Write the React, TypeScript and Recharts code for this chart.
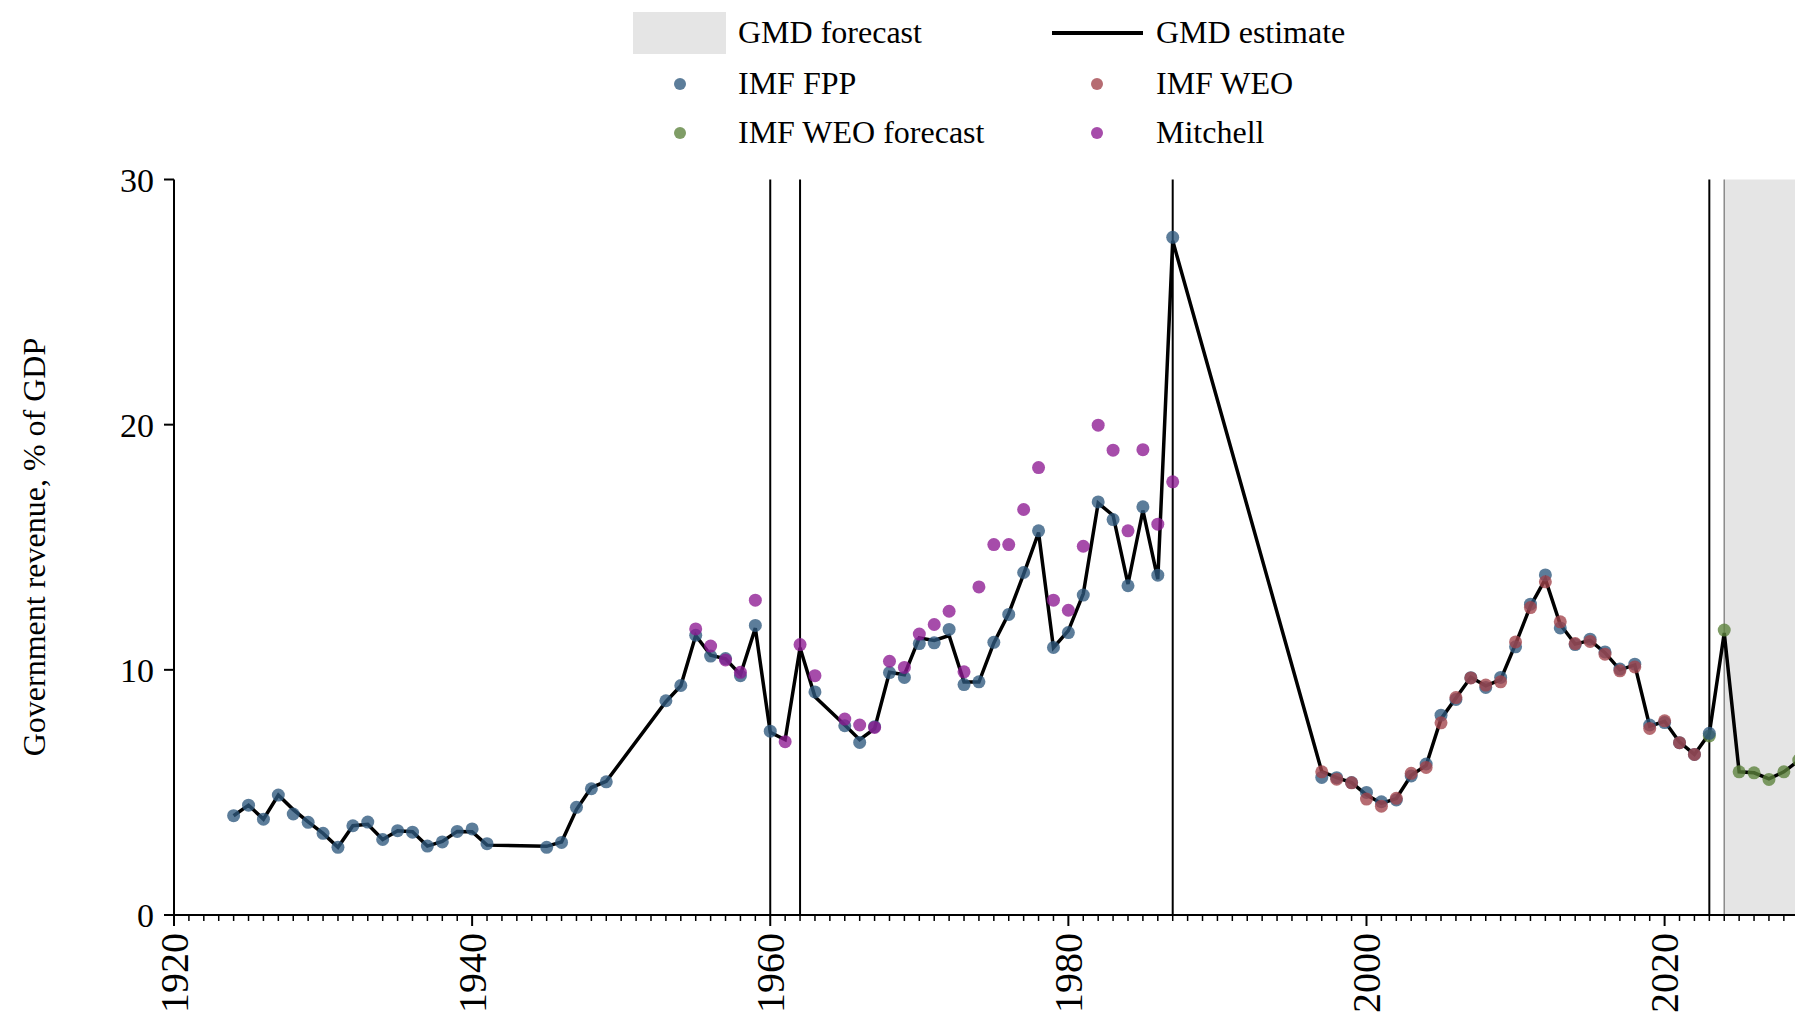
import React from 'react';
import {
  ComposedChart,
  Line,
  Scatter,
  XAxis,
  YAxis,
  ReferenceLine,
  ReferenceArea,
} from 'recharts';

const FONT = '"Liberation Serif", "Times New Roman", serif';

// [year, % of GDP]
const GMD_ESTIMATE = [
  [1924, 4.05], [1925, 4.48], [1926, 3.91], [1927, 4.89], [1928, 4.3], [1929, 3.8],
  [1930, 3.33], [1931, 2.76], [1932, 3.64], [1933, 3.7], [1934, 3.08], [1935, 3.44],
  [1936, 3.4], [1937, 2.81], [1938, 3.0], [1939, 3.41], [1940, 3.4], [1941, 2.85],
  [1945, 2.8], [1946, 2.98], [1947, 4.3], [1948, 5.2], [1949, 5.45], [1953, 8.7],
  [1954, 9.35], [1955, 11.4], [1956, 10.6], [1957, 10.45], [1958, 9.8], [1959, 11.7],
  [1960, 7.45], [1961, 7.15], [1962, 10.9], [1963, 8.9], [1965, 7.75], [1966, 7.15],
  [1967, 7.6], [1968, 9.9], [1969, 9.8], [1970, 11.3], [1971, 11.2], [1972, 11.4],
  [1973, 9.5], [1974, 9.5], [1975, 11.1], [1976, 12.3], [1977, 13.9], [1978, 15.6],
  [1979, 10.9], [1980, 11.6], [1981, 13.1], [1982, 16.8], [1983, 16.3], [1984, 13.5],
  [1985, 16.5], [1986, 13.7], [1987, 27.5], [1997, 5.85], [1998, 5.6], [1999, 5.4],
  [2000, 4.9], [2001, 4.55], [2002, 4.75], [2003, 5.7], [2004, 6.1], [2005, 8.0],
  [2006, 8.85], [2007, 9.7], [2008, 9.35], [2009, 9.6], [2010, 11.05], [2011, 12.6],
  [2012, 13.7], [2013, 11.85], [2014, 11.05], [2015, 11.2], [2016, 10.7], [2017, 10.0],
  [2018, 10.2], [2019, 7.7], [2020, 7.9], [2021, 7.05], [2022, 6.55], [2023, 7.4],
  [2024, 11.5], [2025, 5.84], [2026, 5.8], [2027, 5.55], [2028, 5.84], [2029, 6.3],
];

const IMF_FPP = [
  [1924, 4.05], [1925, 4.48], [1926, 3.91], [1927, 4.89], [1928, 4.12], [1929, 3.78],
  [1930, 3.33], [1931, 2.76], [1932, 3.64], [1933, 3.79], [1934, 3.08], [1935, 3.44],
  [1936, 3.38], [1937, 2.81], [1938, 2.98], [1939, 3.41], [1940, 3.51], [1941, 2.91],
  [1945, 2.76], [1946, 2.96], [1947, 4.39], [1948, 5.15], [1949, 5.43], [1953, 8.74],
  [1954, 9.36], [1955, 11.41], [1956, 10.56], [1957, 10.46], [1958, 9.76], [1959, 11.81],
  [1960, 7.5], [1963, 9.1], [1965, 7.72], [1966, 7.04], [1967, 7.68], [1968, 9.89],
  [1969, 9.69], [1970, 11.07], [1971, 11.1], [1972, 11.65], [1973, 9.4], [1974, 9.51],
  [1975, 11.12], [1976, 12.26], [1977, 13.97], [1978, 15.67], [1979, 10.91], [1980, 11.52],
  [1981, 13.05], [1982, 16.85], [1983, 16.13], [1984, 13.43], [1985, 16.65], [1986, 13.86],
  [1987, 27.64], [1997, 5.61], [1998, 5.6], [1999, 5.4], [2000, 5.0], [2001, 4.62],
  [2002, 4.69], [2003, 5.67], [2004, 6.16], [2005, 8.15], [2006, 8.79], [2007, 9.68],
  [2008, 9.28], [2009, 9.69], [2010, 10.94], [2011, 12.68], [2012, 13.87], [2013, 11.71],
  [2014, 11.03], [2015, 11.25], [2016, 10.73], [2017, 10.03], [2018, 10.23], [2019, 7.75],
  [2020, 7.85], [2021, 7.03], [2022, 6.55], [2023, 7.41],
];

const IMF_WEO = [
  [1997, 5.84], [1998, 5.54], [1999, 5.39], [2000, 4.73], [2001, 4.44], [2002, 4.76],
  [2003, 5.78], [2004, 6.02], [2005, 7.84], [2006, 8.87], [2007, 9.67], [2008, 9.38],
  [2009, 9.51], [2010, 11.14], [2011, 12.54], [2012, 13.59], [2013, 11.96], [2014, 11.07],
  [2015, 11.16], [2016, 10.64], [2017, 9.96], [2018, 10.12], [2019, 7.61], [2020, 7.92],
  [2021, 7.03], [2022, 6.55],
];

const IMF_WEO_FORECAST = [
  [2023, 7.3], [2024, 11.62], [2025, 5.84], [2026, 5.8], [2027, 5.53], [2028, 5.84], [2029, 6.32],
];

const MITCHELL = [
  [1955, 11.67], [1956, 10.97], [1957, 10.4], [1958, 9.9], [1959, 12.84], [1961, 7.07],
  [1962, 11.03], [1963, 9.76], [1965, 7.99], [1966, 7.75], [1967, 7.65], [1968, 10.35],
  [1969, 10.1], [1970, 11.46], [1971, 11.85], [1972, 12.39], [1973, 9.92], [1974, 13.38],
  [1975, 15.11], [1976, 15.11], [1977, 16.54], [1978, 18.25], [1979, 12.84], [1980, 12.43],
  [1981, 15.04], [1982, 19.98], [1983, 18.96], [1984, 15.67], [1985, 18.98], [1986, 15.94],
  [1987, 17.67],
];

const BREAK_YEARS = [1960, 1962, 1987, 2023];
const FORECAST_START = 2024;
const Y_TICKS = [0, 10, 20, 30];
const X_MIN = 1920;
const X_MAX = 2035;
const YEAR_TICKS = Array.from({ length: X_MAX - X_MIN + 1 }, (_, i) => X_MIN + i);

const COLORS = {
  fpp: '#2e597e',
  weo: '#a2424a',
  weoForecast: '#5b813b',
  mitchell: '#8d1992',
};

const DOT_R = 6.5;

const toRows = (pairs: number[][]) => pairs.map(([year, value]) => ({ year, value }));

const dot = (color: string) => (props: any) => (
  <circle cx={props.cx} cy={props.cy} r={DOT_R} fill={color} fillOpacity={0.78} />
);

const YearTick = (props: any) => {
  const { x, y, payload } = props;
  const year = payload.value;
  const major = year % 20 === 0;
  return (
    <g>
      <line x1={x} y1={y} x2={x} y2={y + (major ? 11 : 6)} stroke="#000" strokeWidth={major ? 2 : 1.5} />
      {major && year <= 2020 && (
        <text
          x={x}
          y={y + 18}
          transform={`rotate(-90, ${x}, ${y + 18})`}
          textAnchor="end"
          dominantBaseline="central"
          fontSize={40}
          fontFamily={FONT}
          fill="#000"
        >
          {year}
        </text>
      )}
    </g>
  );
};

const legendText: React.CSSProperties = {
  position: 'absolute',
  fontSize: 32,
  lineHeight: '32px',
  whiteSpace: 'nowrap',
  color: '#000',
};

const LegendDot = ({ x, y, color }: { x: number; y: number; color: string }) => (
  <div
    style={{
      position: 'absolute',
      left: x - 6,
      top: y - 6,
      width: 12,
      height: 12,
      borderRadius: '50%',
      background: color,
      opacity: 0.78,
    }}
  />
);

export default function App() {
  return (
    <div
      style={{
        position: 'fixed',
        left: 0,
        top: 0,
        width: 1795,
        height: 1017,
        overflow: 'hidden',
        background: '#fff',
        fontFamily: FONT,
      }}
    >
      {/* legend */}
      <div style={{ position: 'absolute', left: 633, top: 12, width: 93, height: 42, background: '#e5e5e5' }} />
      <div style={{ ...legendText, left: 738, top: 16 }}>GMD forecast</div>
      <div style={{ position: 'absolute', left: 1052, top: 31, width: 91, height: 3.5, background: '#000' }} />
      <div style={{ ...legendText, left: 1156, top: 16 }}>GMD estimate</div>
      <LegendDot x={680} y={84} color={COLORS.fpp} />
      <div style={{ ...legendText, left: 738, top: 67 }}>IMF FPP</div>
      <LegendDot x={1097} y={84} color={COLORS.weo} />
      <div style={{ ...legendText, left: 1156, top: 67 }}>IMF WEO</div>
      <LegendDot x={680} y={133} color={COLORS.weoForecast} />
      <div style={{ ...legendText, left: 738, top: 116 }}>IMF WEO forecast</div>
      <LegendDot x={1097} y={133} color={COLORS.mitchell} />
      <div style={{ ...legendText, left: 1156, top: 116 }}>Mitchell</div>

      {/* y axis title */}
      <div
        style={{
          position: 'absolute',
          left: 34,
          top: 547,
          fontSize: 32,
          whiteSpace: 'nowrap',
          transform: 'translate(-50%, -50%) rotate(-90deg)',
        }}
      >
        Government revenue, % of GDP
      </div>

      <div style={{ position: 'absolute', left: 0, top: 0 }}>
        <ComposedChart width={1900} height={1017} margin={{ top: 179.5, right: 11.8, bottom: 2, left: 0 }}>
          <ReferenceArea
            x1={FORECAST_START}
            x2={X_MAX}
            y1={0}
            y2={30}
            fill="#e5e5e5"
            fillOpacity={1}
            stroke="none"
          />
          <ReferenceLine x={FORECAST_START} stroke="#8a8a8a" strokeWidth={1.5} />
          {BREAK_YEARS.map((yr) => (
            <ReferenceLine key={yr} x={yr} stroke="#000" strokeWidth={2} />
          ))}
          <XAxis
            type="number"
            dataKey="year"
            domain={[X_MIN, X_MAX]}
            ticks={YEAR_TICKS}
            interval={0}
            height={100}
            tickLine={false}
            tickSize={0}
            tickMargin={0}
            tick={<YearTick />}
            axisLine={{ stroke: '#000', strokeWidth: 2 }}
            allowDataOverflow
          />
          <YAxis
            type="number"
            dataKey="value"
            domain={[0, 30]}
            ticks={Y_TICKS}
            width={174}
            tickSize={10}
            tickMargin={10}
            tickLine={{ stroke: '#000', strokeWidth: 2 }}
            axisLine={{ stroke: '#000', strokeWidth: 2 }}
            tick={{ fill: '#000', fontSize: 34, fontFamily: FONT }}
            allowDataOverflow
          />
          <Line
            data={toRows(GMD_ESTIMATE)}
            dataKey="value"
            stroke="#000"
            strokeWidth={3.5}
            dot={false}
            activeDot={false}
            isAnimationActive={false}
          />
          <Scatter data={toRows(IMF_WEO_FORECAST)} dataKey="value" shape={dot(COLORS.weoForecast)} isAnimationActive={false} />
          <Scatter data={toRows(IMF_FPP)} dataKey="value" shape={dot(COLORS.fpp)} isAnimationActive={false} />
          <Scatter data={toRows(IMF_WEO)} dataKey="value" shape={dot(COLORS.weo)} isAnimationActive={false} />
          <Scatter data={toRows(MITCHELL)} dataKey="value" shape={dot(COLORS.mitchell)} isAnimationActive={false} />
        </ComposedChart>
      </div>
    </div>
  );
}
